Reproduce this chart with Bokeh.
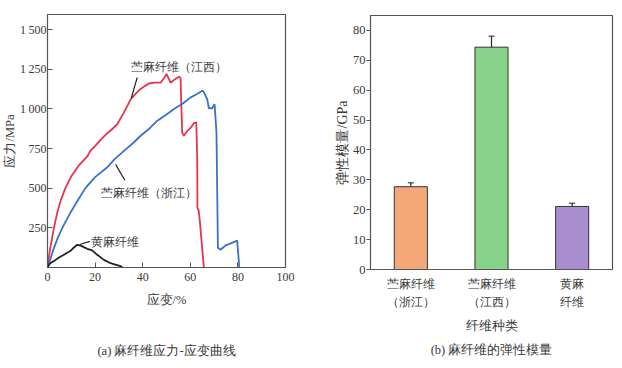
from bokeh.plotting import figure
from bokeh.layouts import row, column
from bokeh.models import (FixedTicker, Range1d, FactorRange, Whisker,
                          ColumnDataSource)
from bokeh.embed import file_html
from bokeh.resources import INLINE
from bokeh.core.properties import value

# ---------------- data: stress-strain curves ----------------
strain_jx = [0, 1, 2.7, 4, 5.5, 7.5, 10, 13, 16.7, 18, 20, 22.3, 25, 27, 29.3,
             32, 35, 37, 39, 41, 42.6, 45, 47.5, 49, 50, 51.7, 53, 55.2, 55.9,
             56.6, 57.3, 58.7, 60.1, 61.5, 62.5, 62.9, 63.0, 63.5, 63.9, 65.7]
stress_jx = [0, 110, 250, 340, 420, 500, 575, 640, 700, 735, 765, 805, 845, 870,
             903, 975, 1061, 1095, 1124, 1145, 1160, 1165, 1165, 1195, 1220,
             1165, 1180, 1203, 1195, 850, 830, 860, 880, 910, 915, 700, 375,
             360, 310, 0]

strain_zj = [0, 1, 2.7, 4, 6.2, 8, 10, 13, 16, 20, 25, 28, 32, 36, 39, 43, 46,
             50, 53, 57, 60, 63, 65, 65.5, 67.1, 67.8, 69.2, 70.2, 71, 71.6,
             72.7, 74.8, 77, 79.7, 80.6]
stress_zj = [0, 45, 122, 175, 249, 300, 355, 430, 502, 570, 630, 680, 734, 785,
             829, 878, 924, 965, 998, 1035, 1071, 1095, 1115, 1110, 1061, 1004,
             1004, 1030, 850, 125, 112, 139, 152, 169, 0]

strain_jute = [0, 1, 3.4, 5, 6.9, 9.7, 11, 12.5, 13.5, 14.6, 16.7, 18.8, 20.9,
               23.7, 26.5, 28.5, 30.7, 31.5]
stress_jute = [0, 25, 48, 65, 80, 105, 125, 143, 140, 133, 118, 108, 80, 48, 27,
               18, 8, 0]

x_ticks = [0, 20, 40, 60, 80, 100]
y_ticks = [250, 500, 750, 1000, 1250, 1500]
y_tick_labels = ["250", "500", "750", "1\u2009000", "1\u2009250", "1\u2009500"]

# annotation anchors (data coordinates)
lab_jx = (34.9, 1261, "苎麻纤维（江西）")
lead_jx = ([37.7, 35.2], [1198, 1068])
lab_zj = (22.3, 470, "苎麻纤维（浙江）")
lead_zj = ([28.6, 32.5], [650, 550])
lab_jute = (18.1, 158, "黄麻纤维")
lead_jute = ([13.5, 17.8], [145, 165])

# ---------------- data: modulus bars ----------------
fibers = ["苎麻纤维\n（浙江）", "苎麻纤维\n（江西）", "黄麻\n纤维"]
modulus = [27.7, 74.4, 21.1]
mod_err = [1.3, 3.7, 1.1]
bar_colors = ["#F4A87A", "#88D38C", "#A88ECF"]
y2_ticks = [0, 10, 20, 30, 40, 50, 60, 70, 80]

caption_a = "(a) 麻纤维应力-应变曲线"
caption_b = "(b) 麻纤维的弹性模量"

SERIF = "Liberation Serif"
TXT = "#3a3a3a"
FRAME = "#555555"


def style_axes(p):
    for ax in (p.xaxis[0], p.yaxis[0]):
        ax.axis_line_color = FRAME
        ax.major_tick_line_color = FRAME
        ax.minor_tick_line_color = None
        ax.major_label_text_font = SERIF
        ax.major_label_text_color = TXT
        ax.axis_label_text_font = SERIF
        ax.axis_label_text_color = TXT
        ax.axis_label_text_font_style = "normal"
    p.xgrid.grid_line_color = None
    p.ygrid.grid_line_color = None
    p.outline_line_color = FRAME
    p.outline_line_width = 1.2


def caption_fig(w, h, ypos, txt):
    c = figure(width=w, height=h, output_backend="svg", toolbar_location=None,
               x_range=Range1d(0, 1), y_range=Range1d(0, 1),
               min_border=0, x_axis_type=None, y_axis_type=None)
    c.outline_line_color = None
    c.xgrid.grid_line_color = None
    c.ygrid.grid_line_color = None
    c.text(x=[0.5], y=[ypos], text=[txt], text_font=value(SERIF),
           text_font_size="12.5px", text_color=TXT, text_align="center",
           text_baseline="middle")
    return c


# ---------------- left figure ----------------
W1 = 310
p1 = figure(width=W1, height=323, output_backend="svg", toolbar_location=None,
            x_range=Range1d(0, 100), y_range=Range1d(0, 1595),
            min_border_left=47, min_border_right=25, min_border_top=14,
            min_border_bottom=56)
style_axes(p1)
p1.xaxis.ticker = FixedTicker(ticks=x_ticks)
p1.yaxis.ticker = FixedTicker(ticks=y_ticks)
p1.yaxis.major_label_overrides = {t: s for t, s in zip(y_ticks, y_tick_labels)}
for ax in (p1.xaxis[0], p1.yaxis[0]):
    ax.major_tick_in = 5
    ax.major_tick_out = 0
    ax.major_label_text_font_size = "12px"
    ax.axis_label_text_font_size = "12.5px"
p1.yaxis.major_label_standoff = 1
p1.xaxis.major_label_standoff = 5
p1.xaxis.axis_label = "应变/%"
p1.yaxis.axis_label = "应力/MPa"
p1.yaxis.axis_label_standoff = 0
p1.xaxis.axis_label_standoff = 9

p1.line(strain_jx, stress_jx, line_color="#E8334F", line_width=1.8)
p1.line(strain_zj, stress_zj, line_color="#3B72C9", line_width=1.8)
p1.line(strain_jute, stress_jute, line_color="#222222", line_width=1.8)

for lab, lead in ((lab_jx, lead_jx), (lab_zj, lead_zj), (lab_jute, lead_jute)):
    p1.line(lead[0], lead[1], line_color="#222222", line_width=1.2)
    p1.text(x=[lab[0]], y=[lab[1]], text=[lab[2]], text_font=value(SERIF),
            text_font_size="12px", text_color=TXT, text_baseline="middle",
            text_align="left")

c1 = caption_fig(W1, 45, 0.378, caption_a)

# ---------------- right figure ----------------
src = ColumnDataSource(dict(f=fibers, m=modulus,
                            up=[m + e for m, e in zip(modulus, mod_err)],
                            lo=[m - e for m, e in zip(modulus, mod_err)],
                            c=bar_colors))
W2 = 312
p2 = figure(width=W2, height=340, output_backend="svg", toolbar_location=None,
            x_range=FactorRange(*fibers, range_padding=0), y_range=Range1d(0, 85),
            min_border_left=60, min_border_right=10, min_border_top=15,
            min_border_bottom=71)
style_axes(p2)
p2.yaxis.ticker = FixedTicker(ticks=y2_ticks)
p2.yaxis.major_tick_in = 0
p2.yaxis.major_tick_out = 4
p2.xaxis.major_tick_line_color = None
p2.yaxis.major_label_text_font_size = "12.5px"
p2.xaxis.major_label_text_font_size = "12px"
p2.xaxis.major_label_text_line_height = 1.3
p2.xaxis.axis_label_text_font_size = "12.5px"
p2.yaxis.axis_label_text_font_size = "14px"
p2.yaxis.axis_label = "弹性模量/GPa"
p2.xaxis.axis_label = "纤维种类"
p2.yaxis.major_label_standoff = 1
p2.yaxis.axis_label_standoff = 0
p2.xaxis.major_label_standoff = 1
p2.xaxis.axis_label_standoff = 7

p2.vbar(x="f", top="m", width=0.41, source=src, fill_color="c",
        line_color="#333333", line_width=1)
wh = Whisker(base="f", upper="up", lower="lo", source=src,
             line_color="#222222", line_width=1.2)
wh.upper_head.size = 6
wh.lower_head.size = 6
wh.upper_head.line_color = "#222222"
wh.lower_head.line_color = "#222222"
p2.add_layout(wh)

c2 = caption_fig(W2, 28, 0.643, caption_b)

layout = row(column(p1, c1), column(p2, c2))
open("out.html", "w").write(file_html(layout, INLINE))
